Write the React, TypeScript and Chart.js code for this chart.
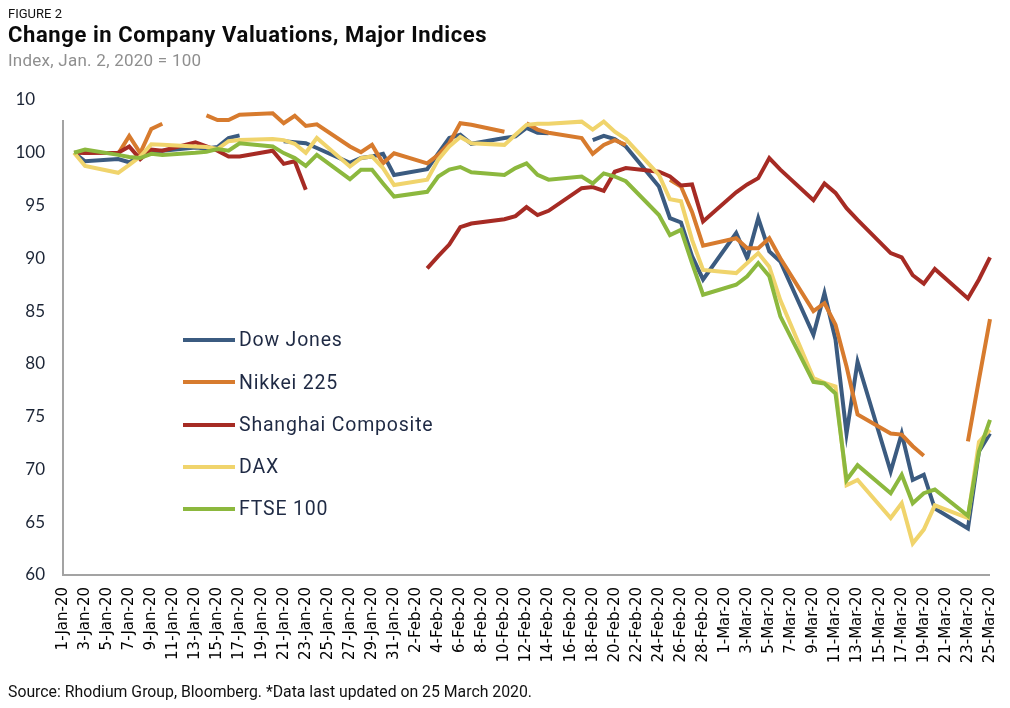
import React, { useEffect, useRef } from "react";
import { Chart, registerables } from "chart.js";

Chart.register(...registerables);

// ---- Data ----
const MONTHS: [string, number][] = [["Jan", 31], ["Feb", 29], ["Mar", 25]];
const ALL_DAYS: string[] = MONTHS.flatMap(([m, n]) =>
  Array.from({ length: n }, (_, i) => `${i + 1}-${m}-20`)
);

const TRADING_DAYS = [
  "2-Jan-20", "3-Jan-20", "6-Jan-20", "7-Jan-20", "8-Jan-20", "9-Jan-20", "10-Jan-20",
  "13-Jan-20", "14-Jan-20", "15-Jan-20", "16-Jan-20", "17-Jan-20", "20-Jan-20", "21-Jan-20",
  "22-Jan-20", "23-Jan-20", "24-Jan-20", "27-Jan-20", "28-Jan-20", "29-Jan-20", "30-Jan-20",
  "31-Jan-20",
  "3-Feb-20", "4-Feb-20", "5-Feb-20", "6-Feb-20", "7-Feb-20", "10-Feb-20", "11-Feb-20",
  "12-Feb-20", "13-Feb-20", "14-Feb-20", "17-Feb-20", "18-Feb-20", "19-Feb-20", "20-Feb-20",
  "21-Feb-20", "24-Feb-20", "25-Feb-20", "26-Feb-20", "27-Feb-20", "28-Feb-20",
  "2-Mar-20", "3-Mar-20", "4-Mar-20", "5-Mar-20", "6-Mar-20", "9-Mar-20", "10-Mar-20",
  "11-Mar-20", "12-Mar-20", "13-Mar-20", "16-Mar-20", "17-Mar-20", "18-Mar-20", "19-Mar-20",
  "20-Mar-20", "23-Mar-20", "24-Mar-20", "25-Mar-20",
];

const DOW = [
  100, 99.2, 99.4, 99.1, 99.65, 100.1, 100.2, 100.5, 100.4, 100.55, 101.4, 101.65, null, 101.1,
  101.0, 100.9, 100.45, 99.05, 99.5, 99.65, 99.9, 97.9,
  98.45, 99.95, 101.4, 101.7, 100.85, 101.4, 101.55, 102.35, 101.9, 101.85, null, 101.2, 101.6,
  101.3, 100.6, 96.8, 93.8, 93.4, 90.2, 88.0,
  92.4, 90.0, 93.8, 90.65, 89.7, 82.75, 86.7, 82.3, 73.4, 80.2, 69.8, 73.4, 69.0, 69.5, 66.3,
  64.4, 71.7, 73.4,
];

const NIKKEI = [
  null, null, 99.9, 101.6, 99.97, 102.25, 102.75, null, 103.55, 103.1, 103.1, 103.6, 103.75,
  102.8, 103.5, 102.55, 102.7, 100.6, 100.05, 100.75, 99.0, 99.95,
  99.0, 99.8, 100.9, 102.8, 102.65, 102.0, null, 102.8, 102.2, 101.9, 101.4, 99.9, 100.75,
  101.2, 100.75, null, 97.45, 96.8, 94.4, 91.2,
  91.9, 90.95, 90.95, 91.9, 90.0, 85.0, 85.75, 83.7, 79.75, 75.2, 73.4, 73.3, 72.2, 71.3, null,
  72.65, 78.5, 84.25,
];

const SHANGHAI = [
  100, 99.97, 100, 100.6, 99.4, 100.3, 100.2, 101.0, 100.6, 100.2, 99.65, 99.65, 100.2, 98.95,
  99.2, 96.5, null, null, null, null, null, null,
  89.05, 90.2, 91.3, 92.95, 93.3, 93.7, 94.0, 94.85, 94.1, 94.5, 96.65, 96.75, 96.4, 98.2,
  98.55, 98.2, 97.75, 96.9, 97.0, 93.5,
  96.25, 97.0, 97.6, 99.5, 98.4, 95.5, 97.1, 96.2, 94.75, 93.65, 90.5, 90.1, 88.4, 87.6, 89.0,
  86.2, 88.0, 90.1,
];

const DAX = [
  100, 98.75, 98.1, 98.85, 99.65, 100.8, 100.75, 100.6, 100.55, 100.35, 101.1, 101.2, 101.3,
  101.2, 100.85, 100.0, 101.4, 98.7, 99.5, 99.65, 98.55, 96.95,
  97.45, 99.35, 100.6, 101.5, 100.9, 100.75, 101.7, 102.65, 102.75, 102.75, 102.95, 102.2,
  102.95, 102.0, 101.3, 97.9, 95.6, 95.4, 91.75, 88.9,
  88.6, 89.55, 90.5, 89.2, 86.05, 78.65, 78.2, 77.85, 68.5, 69.0, 65.4, 66.8, 63.0, 64.3, 66.6,
  65.4, 72.6, 73.75,
];

const FTSE = [
  100, 100.3, 99.8, 99.6, 99.5, 99.9, 99.8, 100.0, 100.1, 100.35, 100.2, 100.9, 100.6, 99.97,
  99.5, 98.75, 99.8, 97.5, 98.4, 98.4, 97.1, 95.85,
  96.3, 97.75, 98.4, 98.65, 98.15, 97.9, 98.55, 99.0, 97.9, 97.45, 97.75, 97.1, 98.05, 97.75,
  97.3, 94.1, 92.2, 92.7, 89.55, 86.55,
  87.5, 88.3, 89.55, 88.3, 84.5, 78.3, 78.15, 77.2, 69.0, 70.4, 67.75, 69.5, 66.8, 67.75, 68.1,
  65.6, 71.7, 74.7,
];

const SERIES_NAMES = ["Dow Jones", "Nikkei 225", "Shanghai Composite", "DAX", "FTSE 100"];
const SERIES_VALUES = [DOW, NIKKEI, SHANGHAI, DAX, FTSE];
const SERIES_COLORS = ["#3b5b80", "#d77b2e", "#a62b24", "#f0d46c", "#8cb83e"];

const Y_MIN = 60;
const Y_MAX = 105;
const Y_STEP = 5;

const W = 994;
const H = 692;

const axisLinesPlugin = {
  id: "axisLines",
  beforeDatasetsDraw(chart: any) {
    const { ctx, chartArea, scales } = chart;
    ctx.save();
    ctx.strokeStyle = "#a3a3a3";
    ctx.lineWidth = 2;
    ctx.beginPath();
    const yTop = scales.y.getPixelForValue(103.1);
    ctx.moveTo(chartArea.left, yTop);
    ctx.lineTo(chartArea.left, chartArea.bottom);
    ctx.lineTo(chartArea.right, chartArea.bottom);
    ctx.stroke();
    ctx.restore();
  },
};

export default function App() {
  const canvasRef = useRef<HTMLCanvasElement | null>(null);

  useEffect(() => {
    if (!canvasRef.current) return;
    const n = SERIES_NAMES.length;
    const chart = new Chart(canvasRef.current, {
      type: "line",
      data: {
        labels: ALL_DAYS,
        datasets: SERIES_NAMES.map((name, k) => ({
          label: name,
          data: TRADING_DAYS.map((d, i) => ({ x: d, y: SERIES_VALUES[k][i] })) as any,
          borderColor: SERIES_COLORS[k],
          backgroundColor: SERIES_COLORS[k],
          borderWidth: 4,
          pointRadius: 0,
          pointHoverRadius: 0,
          tension: 0,
          spanGaps: false,
          fill: false,
          order: n - k,
        })),
      },
      options: {
        animation: false,
        responsive: false,
        maintainAspectRatio: false,
        layout: { padding: { top: 92, right: 12, left: 0, bottom: 0 } },
        plugins: {
          legend: { display: false },
          tooltip: { enabled: false },
        },
        scales: {
          x: {
            type: "category",
            offset: false,
            grid: { display: false, drawTicks: false },
            border: { display: false },
            ticks: {
              autoSkip: false,
              maxRotation: 90,
              minRotation: 90,
              padding: 12,
              color: "#000000",
              font: { family: "DejaVu Sans", size: 15 },
              callback: (_v: any, i: number) => (i % 2 === 0 ? ALL_DAYS[i] : ""),
            },
            afterFit: (s: any) => {
              s.height = 125;
              s.paddingRight = 0;
              s.paddingLeft = 0;
            },
          },
          y: {
            min: Y_MIN,
            max: Y_MAX,
            grid: { display: false, drawTicks: false },
            border: { display: false },
            ticks: {
              stepSize: Y_STEP,
              padding: 18,
              color: "#1b2435",
              font: { family: "Lato", size: 17 },
              callback: (v: any) => (v === 105 ? "10\u2007" : String(v)),
            },
            afterFit: (s: any) => {
              s.width = 55;
            },
          },
        },
      },
      plugins: [axisLinesPlugin],
    });
    return () => chart.destroy();
  }, []);

  const legendTop0 = 340 - 8; // centre of first row, container coords
  const legendStep = 42.25;

  return (
    <div style={{ position: "relative", width: W, height: H, fontFamily: "Roboto, sans-serif" }}>
      <canvas
        ref={canvasRef}
        width={W}
        height={H}
        style={{ position: "absolute", left: 0, top: 0, width: W, height: H }}
      />
      <div style={{ position: "absolute", left: 0, top: -1, fontSize: 13, lineHeight: "13px", color: "#111", whiteSpace: "nowrap" }}>
        FIGURE 2
      </div>
      <div style={{ position: "absolute", left: 0, top: 16, fontSize: 22, lineHeight: "22px", fontWeight: 700, letterSpacing: "0.6px", color: "#0a0a0a", whiteSpace: "nowrap" }}>
        Change in Company Valuations, Major Indices
      </div>
      <div style={{ position: "absolute", left: 0, top: 44, fontSize: 17, lineHeight: "17px", letterSpacing: "0.25px", color: "#8f8f8f", whiteSpace: "nowrap" }}>
        Index, Jan. 2, 2020 = 100
      </div>
      {SERIES_NAMES.map((name, k) => {
        const yc = legendTop0 + legendStep * k;
        return (
          <React.Fragment key={name}>
            <div style={{ position: "absolute", left: 175, top: yc - 2, width: 52, height: 4, background: SERIES_COLORS[k] }} />
            <div style={{ position: "absolute", left: 231, top: yc - 9.6, fontSize: 19.5, lineHeight: "19.5px", letterSpacing: "0.8px", color: "#1f2a44", whiteSpace: "nowrap" }}>
              {name}
            </div>
          </React.Fragment>
        );
      })}
      <div style={{ position: "absolute", left: 0, top: 676, fontSize: 15.8, lineHeight: "16px", color: "#111", whiteSpace: "nowrap" }}>
        Source: Rhodium Group, Bloomberg. *Data last updated on 25 March 2020.
      </div>
    </div>
  );
}
